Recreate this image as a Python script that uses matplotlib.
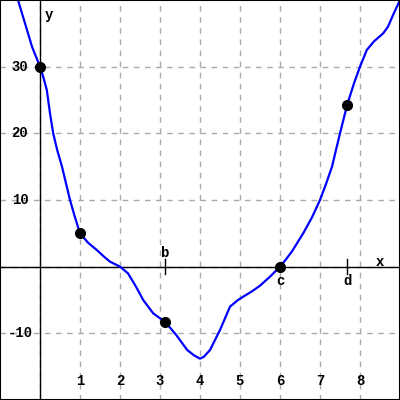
import matplotlib
matplotlib.use("Agg")
import matplotlib.pyplot as plt

# curve
curve_x = [-0.55, -0.4, -0.2, 0, 0.08, 0.17, 0.25, 0.33, 0.43, 0.55, 0.65, 0.75,
           0.87, 1, 1.2, 1.42, 1.6, 1.75, 2, 2.2, 2.4, 2.58, 2.83, 3.13, 3.4,
           3.68, 3.85, 4, 4.1, 4.25, 4.5, 4.75, 4.95, 5.08, 5.3, 5.5, 5.75, 6,
           6.15, 6.3, 6.58, 6.8, 7, 7.15, 7.3, 7.5, 7.68, 7.85, 8, 8.17, 8.35,
           8.58, 8.7, 8.83, 9]
curve_y = [40, 37, 33, 30, 28.5, 26.5, 23, 20, 17.5, 15, 12.5, 10,
           7.5, 5, 3.6, 2.5, 1.5, 0.75, 0, -1, -3, -5, -7, -8.3, -10.2,
           -12.5, -13.3, -13.8, -13.5, -12.5, -9.5, -6, -5, -4.5, -3.7, -2.85, -1.5, 0,
           1.1, 2.3, 5, 7.4, 10, 12.4, 15, 20, 24.3, 27.5, 30, 32.5, 33.8,
           35, 36, 37.8, 40]

# highlighted points
pt_x = [0, 1, 3.13, 6, 7.68]
pt_y = [30, 5, -8.3, 0, 24.3]

x_ticks = [1, 2, 3, 4, 5, 6, 7, 8]
y_ticks = [-10, 10, 20, 30]

# marked positions on x axis
mark_names = ["b", "c", "d"]
mark_x = [3.13, 6, 7.68]
mark_above = [True, False, False]
mark_tick = [True, False, True]

font = {"family": "Liberation Mono", "weight": "bold", "size": 10}

fig = plt.figure(figsize=(4, 4), dpi=100)
ax = fig.add_axes([0, 0, 1, 1])
ax.set_xlim(-1, 9)
ax.set_ylim(-20, 40)

# grid
for gx in range(0, 10):
    ax.axvline(gx, color="#aaaaaa", lw=1, ls=(0, (4, 4)), zorder=0)
for gy in range(-10, 40, 10):
    ax.axhline(gy, color="#aaaaaa", lw=1, ls=(0, (4, 4)), zorder=0)

# axes lines
ax.axhline(0, color="black", lw=1, zorder=1)
ax.axvline(0, color="black", lw=1, zorder=1)

ax.plot(curve_x, curve_y, color="#0000ff", lw=1.6, zorder=2)
ax.plot(pt_x, pt_y, "o", color="black", ms=7, zorder=3)

for t in x_ticks:
    ax.text(t, -17.2, str(t), ha="center", va="center", **font)
for t in y_ticks:
    ax.text(-0.5, t, str(t), ha="center", va="center", **font)

ax.text(0.22, 37.8, "y", ha="center", va="center", **font)
ax.text(8.5, 0.7, "x", ha="center", va="center", **font)

for name, mx, above, tick in zip(mark_names, mark_x, mark_above, mark_tick):
    if tick:
        ax.plot([mx, mx], [-1.1, 1.1], color="black", lw=1, zorder=1)
    if above:
        ax.text(mx, 2.0, name, ha="center", va="center", **font)
    else:
        ax.text(mx, -2.2, name, ha="center", va="center", **font)

ax.set_xticks([])
ax.set_yticks([])
for s in ax.spines.values():
    s.set_linewidth(1.5)
    s.set_color("black")

fig.savefig("out.png", dpi=100)
